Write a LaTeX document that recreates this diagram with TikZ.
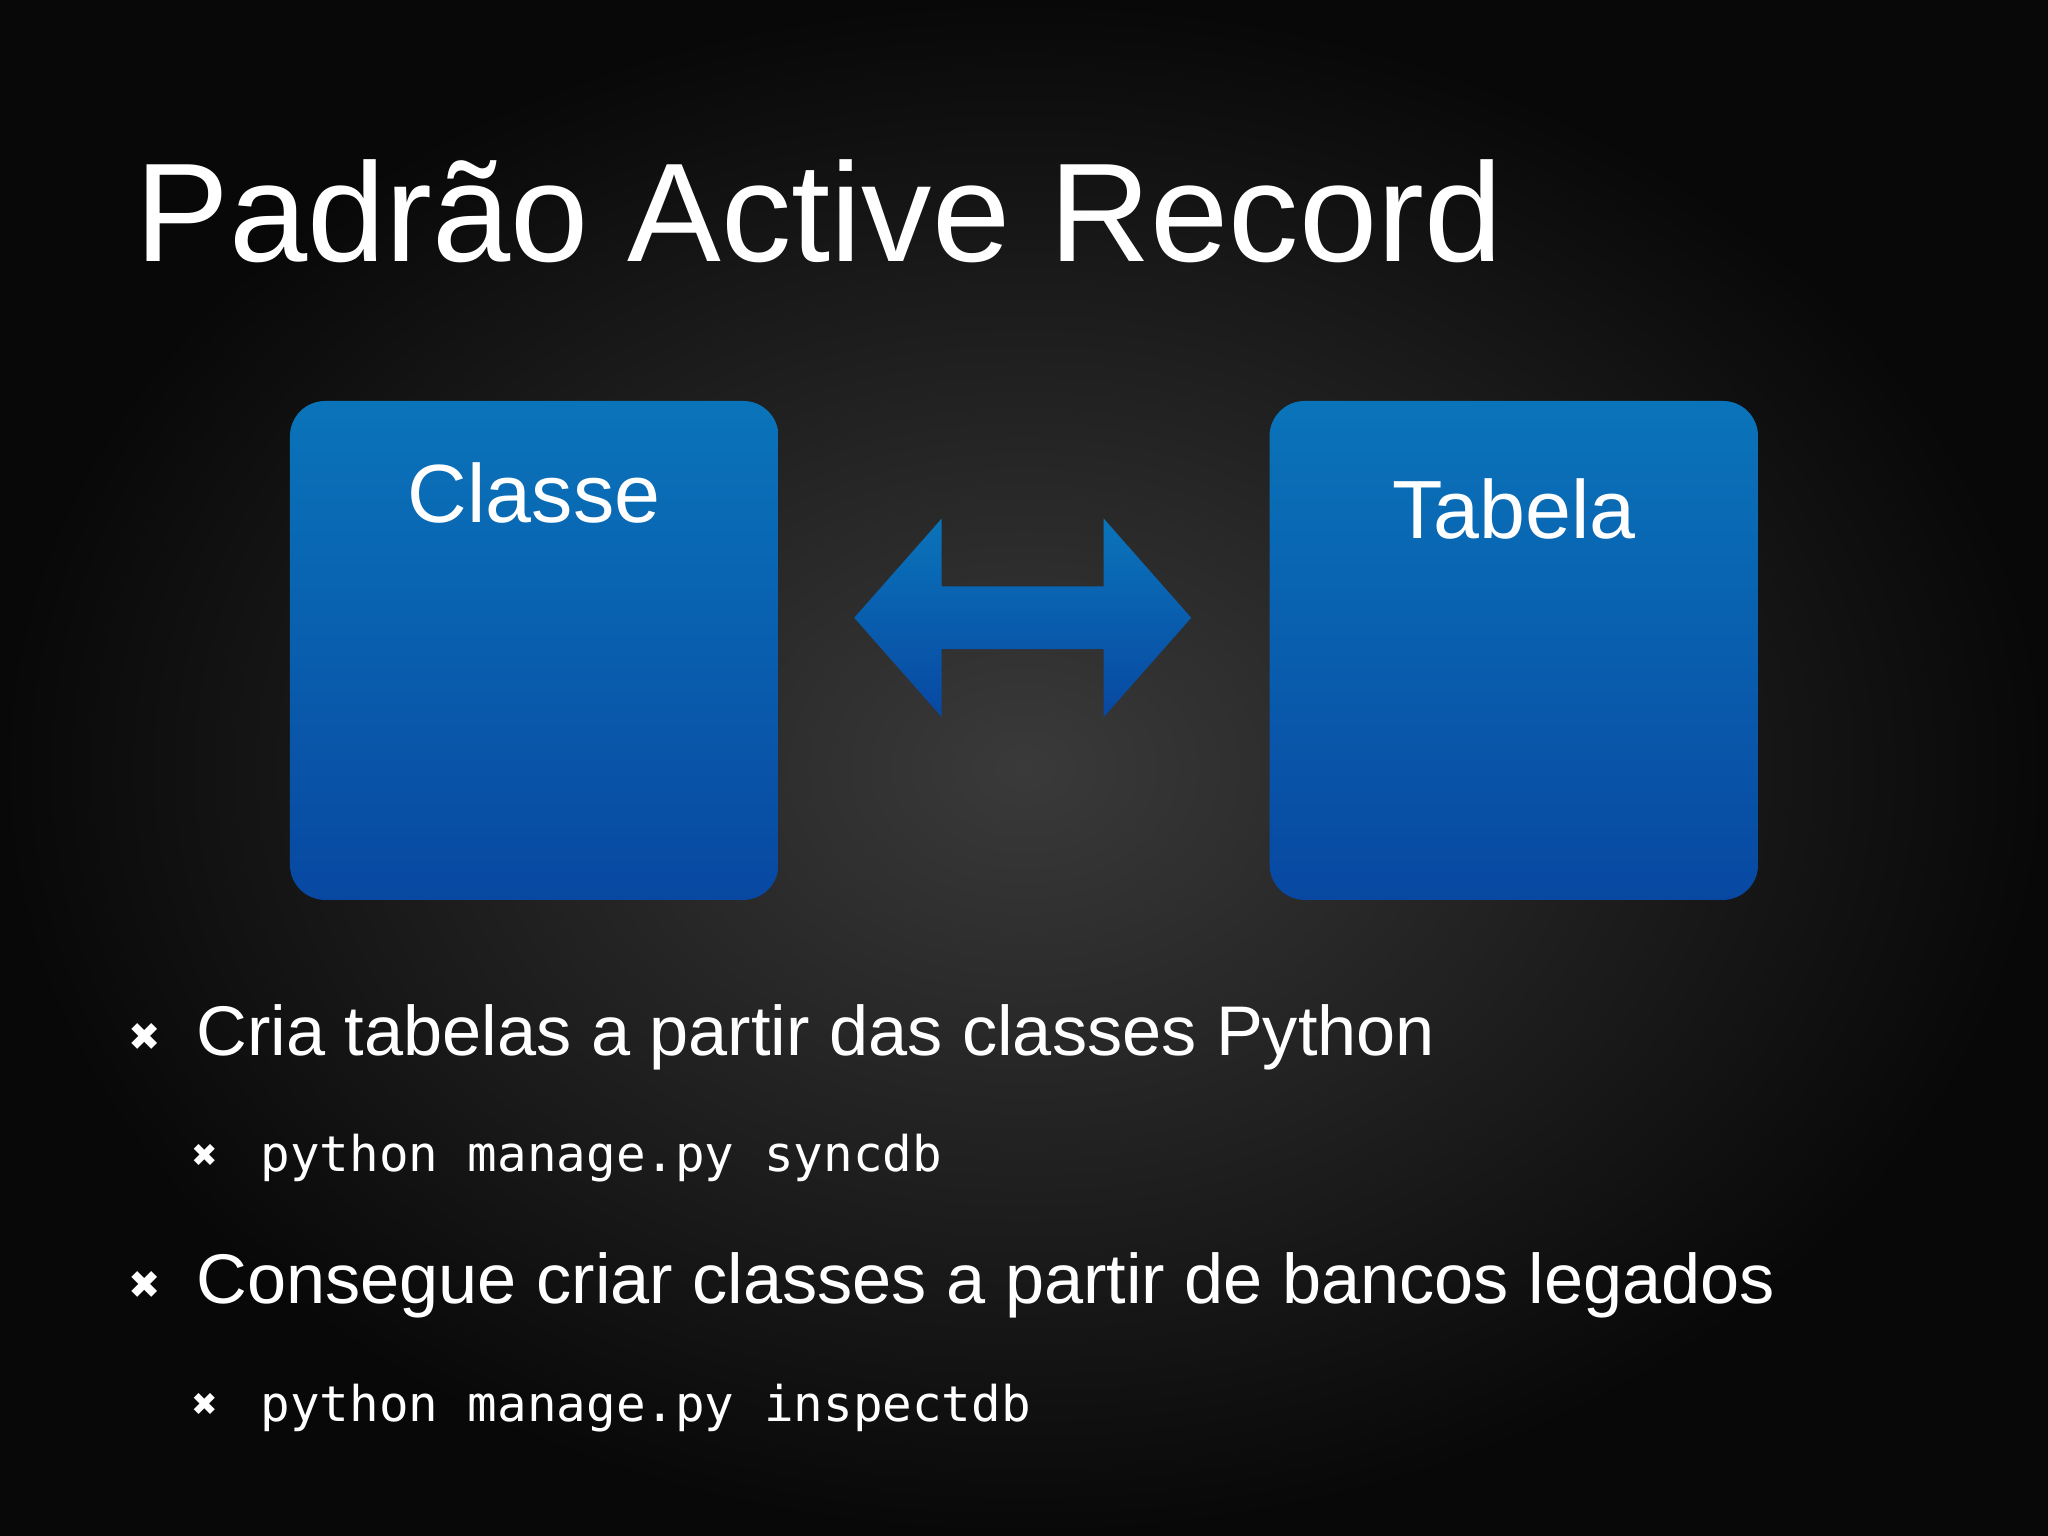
\documentclass[tikz,border=0pt]{standalone}
\usepackage{fontspec}
\setmainfont{Liberation Sans}
\setmonofont{DejaVu Sans Mono}
\newfontfamily\symfont{DejaVu Sans}
\usetikzlibrary{positioning}
\definecolor{boxtop}{HTML}{0A74BA}
\definecolor{boxbot}{HTML}{0848A2}
\definecolor{bgmid}{HTML}{3A3A3A}
\definecolor{bgout}{HTML}{080808}
\tikzset{
  bluebox/.style={rounded corners=10, top color=boxtop, bottom color=boxbot, draw=none},
  boxlabel/.style={text=white, font=\fontsize{23.5}{28}\selectfont},
  bullet/.style={text=white, anchor=base west, inner sep=0, font=\fontsize{20}{24}\selectfont},
  subbullet/.style={text=white, anchor=base west, inner sep=0, font=\ttfamily\fontsize{14}{17}\selectfont},
  mark1/.style={text=white, anchor=base, font=\symfont\fontsize{11}{13}\selectfont},
  mark2/.style={text=white, anchor=base, font=\symfont\fontsize{9}{11}\selectfont}
}
\begin{document}
\begin{tikzpicture}[x=0.01306cm, y=-0.01306cm]
  % background
  \shade[inner color=bgmid, outer color=bgout] (0,0) rectangle (1568,1176);
  \useasboundingbox (0,0) rectangle (1568,1176);

  % title
  \node[text=white, anchor=base west, inner sep=0, font=\fontsize{40}{46}\selectfont] (title) at (103,200) {Padrão Active Record};

  % the two boxes
  \path[bluebox] (222,307) rectangle (596,689);
  \path[bluebox] (972,307) rectangle (1346,689);
  \coordinate (classe) at (409,498);
  \coordinate (tabela) at (1159,498);
  \node[boxlabel, anchor=base] (classelbl) at (409,400) {Classe};
  \node[boxlabel, anchor=base] (tabelalbl) at (1159,412) {Tabela};

  % double arrow between them
  \path[top color=boxtop, bottom color=boxbot]
    (654,473) -- (721,397) -- (721,449) -- (845,449) -- (845,397) -- (912,473)
    -- (845,549) -- (845,497) -- (721,497) -- (721,549) -- cycle;

  % bullets
  \node[mark1] (m1) at (111,804) {✖};
  \node[bullet] (b1) at (150,808) {Cria tabelas a partir das classes Python};
  \node[mark2] (m2) at (157,893) {✖};
  \node[subbullet] (s1) at (199,897) {python manage.py syncdb};
  \node[mark1] (m3) at (111,994) {✖};
  \node[bullet] (b2) at (150,998) {Consegue criar classes a partir de bancos legados};
  \node[mark2] (m4) at (157,1084) {✖};
  \node[subbullet] (s2) at (199,1088) {python manage.py inspectdb};
\end{tikzpicture}
\end{document}
